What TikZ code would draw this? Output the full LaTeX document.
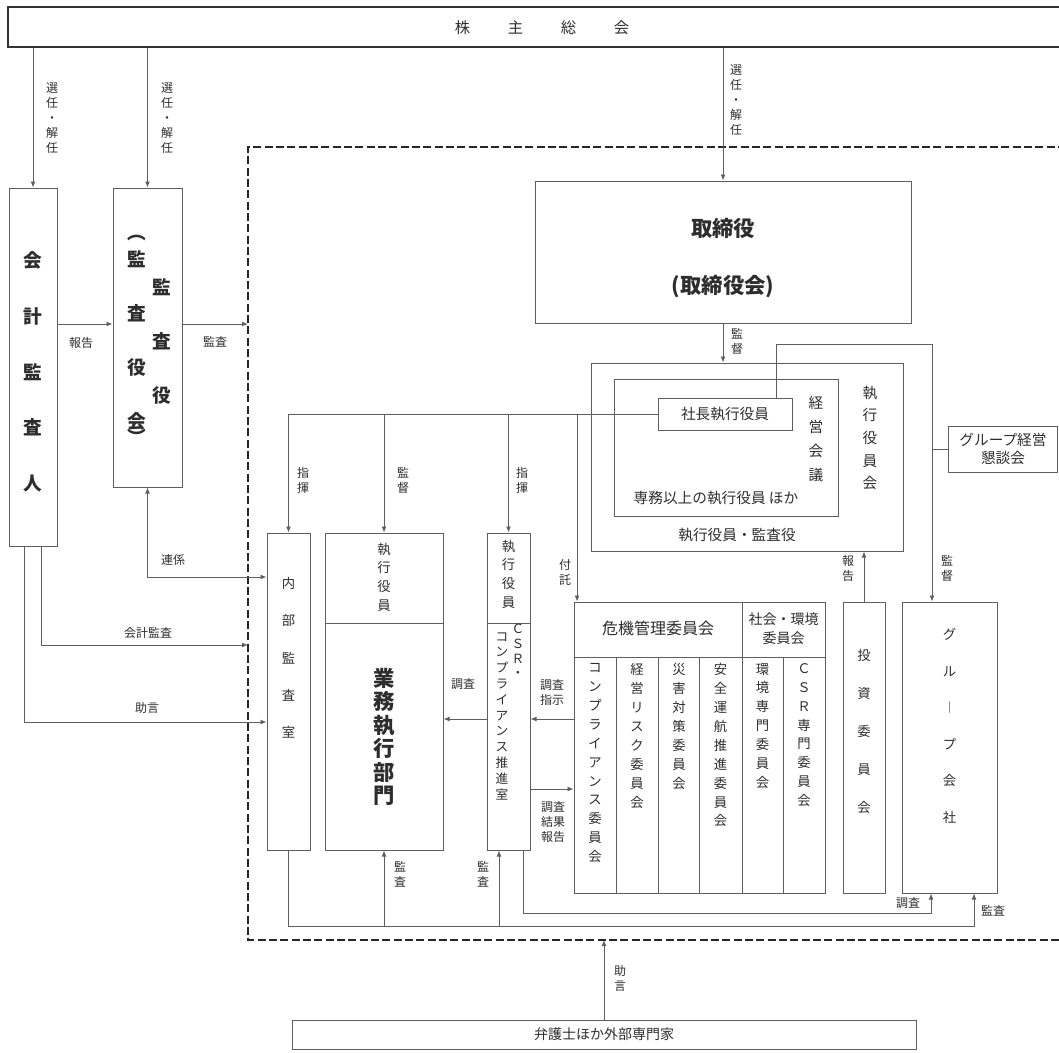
\documentclass[tikz,border=0pt]{standalone}
\usepackage{fontspec}
\setmainfont{Noto Sans CJK JP}
\usetikzlibrary{arrows.meta,calc,positioning,fit}
\definecolor{linecol}{RGB}{95,95,95}
\definecolor{txtcol}{RGB}{45,45,45}

\begin{document}
\begin{tikzpicture}[x=0.75pt,y=-0.75pt,
  box/.style={draw=linecol,line width=0.75pt,inner sep=0pt},
  ln/.style={draw=linecol,line width=0.6pt},
  arr/.style={ln,-{Latex[length=4.5pt,width=3.6pt]}},
  both/.style={ln,{Latex[length=4.5pt,width=3.6pt]}-{Latex[length=4.5pt,width=3.6pt]}},
  lab/.style={font=\fontsize{9}{11.25}\selectfont,text=txtcol,align=center,inner sep=0pt},
  vt/.style={text=txtcol,align=center,inner sep=0pt}]
\useasboundingbox (0,0) rectangle (1059,1052);
% levels and frame
\coordinate (frameNW) at (248,147);
\coordinate (frameSE) at (1066,940);
\coordinate (lvHoukoku) at (0,324);
\coordinate (lvRenkei) at (0,577);
\coordinate (lvKaikei) at (0,645);
\coordinate (lvJogen) at (0,722);
\coordinate (lvChosa) at (0,719);
\coordinate (lvKekka) at (0,789);
\coordinate (lvLineB) at (0,913);
\coordinate (lvLineA) at (0,926);
\coordinate (lvDiv) at (0,623);
\coordinate (lvHead) at (0,657);
\coordinate (xKaiA) at (24,0);
\coordinate (xKaiB) at (41,0);
\coordinate (xKiki) at (577,0);
\coordinate (xShaTop) at (776,0);
\coordinate (xSplit) at (742,0);
\coordinate (xCsrA) at (499,0);
\coordinate (xCsrB) at (523,0);
\coordinate (xG1) at (931,0);
\coordinate (xG2) at (974,0);
\coordinate (kantoku) at (932,344);
\draw[black!85,line width=1.6pt,dash pattern=on 6pt off 2.5pt]
  (frameSE |- frameNW) -- (frameNW) -- (frameNW |- frameSE) -- (frameSE);

% shareholders
\node[box,line width=1.3pt,draw=black!80,fit={(8,7) (1064,47)}] (soukai) {};
\node[vt,font=\fontsize{11.5}{13}\selectfont] (soukaiT) at (542,28) {株\hspace{28.25pt}主\hspace{28.25pt}総\hspace{28.25pt}会};

% auditors
\node[box,fit={(9,188) (57,546)}] (kaikei) {};
\node[vt,font=\bfseries\fontsize{14}{41.8}\selectfont] (kaikeiT) at (33,372) {会\\計\\監\\査\\人};
\node[box,fit={(113,188) (182,487)}] (kansa) {};
\node[vt,font=\bfseries\fontsize{14}{40.5}\selectfont] (kansaR) at (162,341) {監\\査\\役};
\node[vt,font=\bfseries\fontsize{14}{40.5}\selectfont] (kansaL) at (137,340) {監\\査\\役\\会};
\node[vt,font=\bfseries\fontsize{14}{16}\selectfont] (kansaP1) at (137,238) {︵};
\node[vt,font=\bfseries\fontsize{14}{16}\selectfont] (kansaP2) at (137,437) {︶};

% board
\node[box,fit={(535,181) (911,323)}] (tori) {};
\node[vt,font=\bfseries\fontsize{16}{19}\selectfont] (toriT) at (723,228) {取締役};
\node[vt,font=\bfseries\fontsize{16}{19}\selectfont] (toriT2) at (723,287) {(取締役会)};

% executive committee
\node[box,fit={(591,363) (903,551)}] (shikko) {};
\node[box,fit={(614,379) (838,516)}] (keiei) {};
\node[box,fit={(658,398) (792,430)}] (shacho) {};
\node[vt,font=\fontsize{11}{13}\selectfont] (shachoT) at (725,414) {社長執行役員};
\node[vt,font=\fontsize{11}{18}\selectfont] (keieiT) at (816,439) {経\\営\\会\\議};
\node[vt,font=\fontsize{11}{17}\selectfont] (shikkoT) at (870,438) {執\\行\\役\\員\\会};
\node[vt,font=\fontsize{11}{13}\selectfont] (senmuT) at (716,498) {専務以上の執行役員\ ほか};
\node[vt,font=\fontsize{11}{13}\selectfont] (yakuinT) at (737,535) {執行役員・監査役};
\node[box,fit={(948,426) (1057,472)}] (gkk) {};
\node[vt,font=\fontsize{11}{14}\selectfont] (gkkT) at (1003,449) {グループ経営\\懇談会};

% departments
\node[box,fit={(267,533) (310,850)}] (naibu) {};
\node[vt,font=\fontsize{10}{28}\selectfont] (naibuT) at (288.5,658) {内\\部\\監\\査\\室};
\node[box,fit={(325,533) (443,850)}] (gyomu) {};
\draw[ln] (gyomu.west |- lvDiv) -- (gyomu.east |- lvDiv);
\node[vt,font=\fontsize{10}{14}\selectfont] (gyomuT1) at (384,577) {執\\行\\役\\員};
\node[vt,font=\bfseries\fontsize{16}{17.6}\selectfont] (gyomuT2) at (384,737) {業\\務\\執\\行\\部\\門};
\node[box,fit={(487,533) (530,850)}] (csr) {};
\draw[ln] (csr.west |- lvDiv) -- (csr.east |- lvDiv);
\node[vt,font=\fontsize{10}{14}\selectfont] (csrT1) at (508.5,574) {執\\行\\役\\員};
\node[vt,font=\fontsize{9.5}{11}\selectfont] (csrT2) at (518,651) {Ｃ\\Ｓ\\Ｒ\\・};
\node[vt,font=\fontsize{9.5}{11.85}\selectfont] (csrT3) at (502,716) {コ\\ン\\プ\\ラ\\イ\\ア\\ン\\ス\\推\\進\\室};

% committees
\node[box,fit={(574,602) (825,893)}] (kiki) {};
\draw[ln] (kiki.west |- lvHead) -- (kiki.east |- lvHead);
\draw[ln] (xSplit |- kiki.north) -- (xSplit |- kiki.south);
\foreach \cx in {616,658,699,783} \draw[ln] (\cx,657) -- (\cx,893);
\node[vt,font=\fontsize{12}{14}\selectfont] (kikiT) at (658,628) {危機管理委員会};
\node[vt,font=\fontsize{10.5}{14}\selectfont] (shakaiT) at (783.5,629) {社会・環境\\委員会};
\node[vt,font=\fontsize{10}{14.2}\selectfont,anchor=north] (iin1) at (595,663) {コ\\ン\\プ\\ラ\\イ\\ア\\ン\\ス\\委\\員\\会};
\node[vt,font=\fontsize{10}{14.2}\selectfont,anchor=north] (iin2) at (637,663) {経\\営\\リ\\ス\\ク\\委\\員\\会};
\node[vt,font=\fontsize{10}{14.2}\selectfont,anchor=north] (iin3) at (679,663) {災\\害\\対\\策\\委\\員\\会};
\node[vt,font=\fontsize{10}{14.2}\selectfont,anchor=north] (iin4) at (720.5,663) {安\\全\\運\\航\\推\\進\\委\\員\\会};
\node[vt,font=\fontsize{10}{14.2}\selectfont,anchor=north] (iin5) at (762.5,663) {環\\境\\専\\門\\委\\員\\会};
\node[vt,font=\fontsize{10}{14.2}\selectfont,anchor=north] (iin6) at (804,663) {Ｃ\\Ｓ\\Ｒ\\専\\門\\委\\員\\会};
\node[box,fit={(843,602) (885,893)}] (toushi) {};
\node[vt,font=\fontsize{10}{28.5}\selectfont] (toushiT) at (864,731) {投\\資\\委\\員\\会};
\node[box,fit={(902,602) (997,893)}] (group) {};
\node[vt,font=\fontsize{10}{27.4}\selectfont] (groupT) at (949.5,726) {グ\\ル\\︱\\プ\\会\\社};

% outside experts
\node[box,fit={(292,1020) (916,1049)}] (bengo) {};
\node[vt,font=\fontsize{10.5}{13}\selectfont] (bengoT) at (604,1034) {弁護士ほか外部専門家};

% connectors
\draw[arr] (kaikei.north |- soukai.south) -- (kaikei.north);
\draw[arr] (kansa.north |- soukai.south) -- (kansa.north);
\draw[arr] (tori.north |- soukai.south) -- (tori.north);
\draw[arr] (kaikei.east |- lvHoukoku) -- (kansa.west |- lvHoukoku);
\draw[arr] (kansa.east |- lvHoukoku) -- (frameNW |- lvHoukoku);
\draw[arr] (tori.south) -- (tori.south |- shikko.north);
\draw[ln] (shacho.west) -- (shacho.west -| naibu.north);
\draw[arr] (shacho.west -| naibu.north) -- (naibu.north);
\draw[arr] (shacho.west -| gyomu.north) -- (gyomu.north);
\draw[arr] (shacho.west -| csr.north) -- (csr.north);
\draw[arr] (shacho.west -| xKiki) -- (xKiki |- kiki.north);
\draw[arr] (xShaTop |- shacho.north) |- (kantoku) -- (kantoku |- group.north);
\draw[ln] (kantoku |- gkk.west) -- (gkk.west);
\draw[arr] (toushi.north) -- (toushi.north |- shikko.south);
\draw[both] (kansa.south) |- (naibu.west |- lvRenkei);
\draw[arr] (xKaiB |- kaikei.south) |- (frameNW |- lvKaikei);
\draw[arr] (xKaiA |- kaikei.south) |- (naibu.west |- lvJogen);
\draw[arr] (csr.west |- lvChosa) -- (gyomu.east |- lvChosa);
\draw[arr] (kiki.west |- lvChosa) -- (csr.east |- lvChosa);
\draw[arr] (csr.east |- lvKekka) -- (kiki.west |- lvKekka);
\draw[arr] (naibu.south) |- (xG2 |- lvLineA) -- (xG2 |- group.south);
\draw[arr] (gyomu.south |- lvLineA) -- (gyomu.south);
\draw[arr] (xCsrA |- lvLineA) -- (xCsrA |- csr.south);
\draw[arr] (xCsrB |- csr.south) |- (xG1 |- lvLineB) -- (xG1 |- group.south);
\draw[arr] (bengo.north) -- (bengo.north |- frameSE);

% labels
\node[lab] (lSen1) at (52,118) {選\\任\\・\\解\\任};
\node[lab] (lSen2) at (167,118) {選\\任\\・\\解\\任};
\node[lab] (lSen3) at (736,100) {選\\任\\・\\解\\任};
\node[lab] (lHoukoku1) at (81,343) {報告};
\node[lab] (lKansa1) at (215,342) {監査};
\node[lab] (lKantoku1) at (737,341) {監\\督};
\node[lab] (lShiki1) at (303,480) {指\\揮};
\node[lab] (lKantoku2) at (403,480) {監\\督};
\node[lab] (lShiki2) at (522,480) {指\\揮};
\node[lab] (lFutaku) at (565,572) {付\\託};
\node[lab] (lHoukoku2) at (848,568) {報\\告};
\node[lab] (lKantoku3) at (947,568) {監\\督};
\node[lab] (lRenkei) at (173,560) {連係};
\node[lab] (lKaikei) at (148,633) {会計監査};
\node[lab] (lJogen1) at (147,708) {助言};
\node[lab] (lChosa1) at (463,684) {調査};
\node[lab] (lShiji) at (552,692) {調査\\指示};
\node[lab] (lKekka) at (553,822) {調査\\結果\\報告};
\node[lab] (lKansa2) at (400,874) {監\\査};
\node[lab] (lKansa3) at (483,874) {監\\査};
\node[lab] (lChosa2) at (908,903) {調査};
\node[lab] (lKansa4) at (993,911) {監査};
\node[lab] (lJogen2) at (620,978) {助\\言};
\end{tikzpicture}
\end{document}
